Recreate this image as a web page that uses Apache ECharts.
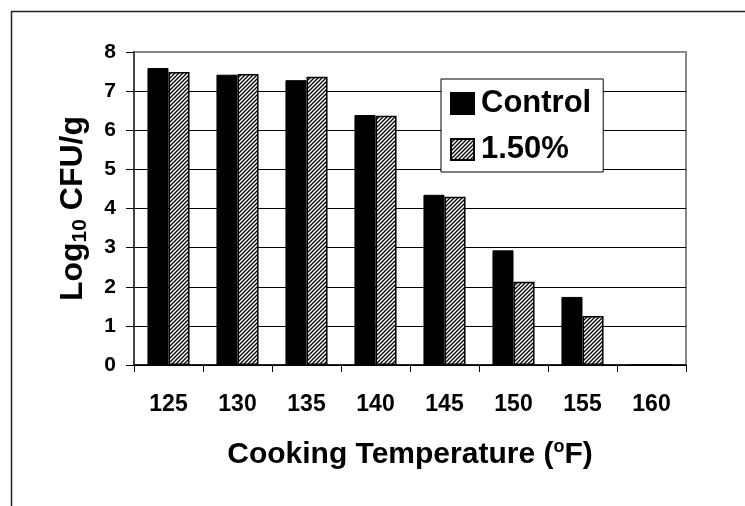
<!DOCTYPE html>
<html>
<head>
<meta charset="utf-8">
<script src="https://cdn.jsdelivr.net/npm/echarts@6/dist/echarts.min.js"></script>
<style>
html,body{margin:0;padding:0;background:#fff;}
#chart{width:745px;height:506px;}
</style>
</head>
<body>
<div id="chart"></div>
<script>
const categories = ['125', '130', '135', '140', '145', '150', '155', '160'];
const controlValues = [7.59, 7.42, 7.28, 6.39, 4.35, 2.93, 1.74, 0];
const treatedValues = [7.49, 7.44, 7.37, 6.37, 4.30, 2.13, 1.25, 0];
const yTicks = [0, 1, 2, 3, 4, 5, 6, 7, 8];

function hatch() {
  const s = 4;
  const c = document.createElement('canvas');
  c.width = s; c.height = s;
  const g = c.getContext('2d');
  g.fillStyle = '#fff';
  g.fillRect(0, 0, s, s);
  g.strokeStyle = '#000';
  g.lineWidth = 1.3;
  g.beginPath();
  g.moveTo(0, s); g.lineTo(s, 0);
  g.moveTo(-1, 1); g.lineTo(1, -1);
  g.moveTo(s - 1, s + 1); g.lineTo(s + 1, s - 1);
  g.stroke();
  return c;
}

const chart = echarts.init(document.getElementById('chart'), null, {renderer: 'canvas'});
const font = 'Arial, "Liberation Sans", sans-serif';
const splitColors = yTicks.map((t, i) => i === yTicks.length - 1 ? '#888' : '#000');

chart.setOption({
  backgroundColor: '#fff',
  animation: false,
  textStyle: {fontFamily: font},
  graphic: [{
    type: 'rect',
    shape: {x: 11.5, y: 11.5, width: 800, height: 600},
    style: {fill: 'none', stroke: '#222', lineWidth: 1.5},
    z: 100
  }],
  grid: {
    left: 134, right: 59, top: 52, bottom: 141,
    show: true, borderColor: '#888', borderWidth: 2, backgroundColor: '#fff'
  },
  legend: {
    orient: 'vertical',
    left: 441, top: 79,
    padding: [9, 12, 7, 9],
    icon: 'rect',
    itemWidth: 23, itemHeight: 21, itemGap: 15,
    backgroundColor: '#fff',
    borderColor: '#000', borderWidth: 1,
    textStyle: {fontSize: 31, fontWeight: 'bold', color: '#000', fontFamily: font, padding: [0, 0, 0, 2]},
    data: ['Control', '1.50%']
  },
  xAxis: {
    type: 'category',
    data: categories,
    name: '{a|Cooking Temperature (}{s|o}{a|F)}',
    nameLocation: 'middle',
    nameGap: 73,
    nameTextStyle: {
      rich: {
        a: {fontSize: 30, fontWeight: 'bold', color: '#000', fontFamily: font, lineHeight: 34, verticalAlign: 'middle'},
        s: {fontSize: 18, fontWeight: 'bold', color: '#000', fontFamily: font, lineHeight: 17, verticalAlign: 'top'}
      }
    },
    axisLine: {lineStyle: {color: '#000', width: 1.5}},
    axisTick: {show: true, alignWithLabel: false, length: 7, lineStyle: {color: '#000', width: 1}},
    axisLabel: {fontSize: 23, fontWeight: 'bold', color: '#000', margin: 28, fontFamily: font},
    splitLine: {show: false}
  },
  yAxis: {
    type: 'value',
    min: 0, max: 8, interval: 1,
    name: '{a|Log}{b|10}{a| CFU/g}',
    nameLocation: 'middle',
    nameGap: 43,
    nameRotate: 90,
    nameTextStyle: {
      rich: {
        a: {fontSize: 32, fontWeight: 'bold', color: '#000', fontFamily: font, lineHeight: 36, verticalAlign: 'middle'},
        b: {fontSize: 21, fontWeight: 'bold', color: '#000', fontFamily: font, lineHeight: 21, verticalAlign: 'bottom'}
      }
    },
    axisLine: {show: true, lineStyle: {color: '#444', width: 2}},
    axisTick: {show: true, length: 8, lineStyle: {color: '#000', width: 1}},
    axisLabel: {fontSize: 21, fontWeight: 'bold', color: '#000', margin: 18, fontFamily: font},
    splitLine: {show: true, lineStyle: {color: splitColors, width: 1}}
  },
  series: [
    {
      name: 'Control',
      type: 'bar',
      data: controlValues,
      barGap: '0%',
      barCategoryGap: '39%',
      itemStyle: {color: '#000', borderColor: '#000', borderWidth: 1}
    },
    {
      name: '1.50%',
      type: 'bar',
      data: treatedValues,
      barGap: '0%',
      barCategoryGap: '39%',
      itemStyle: {color: {image: hatch(), repeat: 'repeat'}, borderColor: '#000', borderWidth: 1.5}
    }
  ]
});
</script>
</body>
</html>
